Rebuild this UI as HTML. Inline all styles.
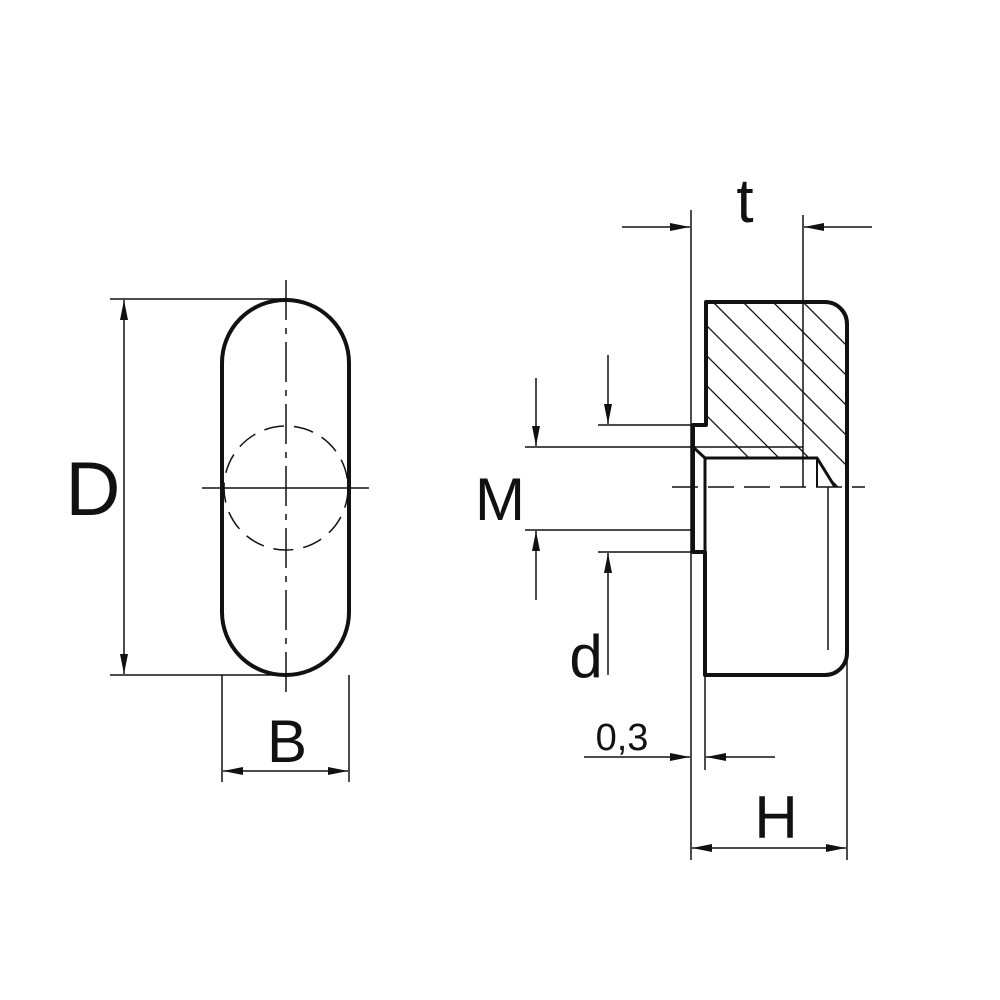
<!DOCTYPE html>
<html><head><style>body{margin:0;background:#fff}svg{display:block}text{font-family:"Liberation Sans",sans-serif;fill:#111}</style></head>
<body>
<svg width="1000" height="1000" viewBox="0 0 1000 1000" xmlns="http://www.w3.org/2000/svg">
<defs>
<marker id="a" viewBox="0 0 20 8" refX="20" refY="4" markerWidth="20" markerHeight="8" orient="auto" markerUnits="userSpaceOnUse"><path d="M0,0 L20,4 L0,8 Z" fill="#111"/></marker>
<clipPath id="hc"><path d="M706,302 L825,302 A22,22 0 0 1 847,324 L847,487 L835,487 L817,458 L705,458 L693,447 L693,425 L706,425 Z"/></clipPath>
</defs>
<g stroke="#111" fill="none">
<rect x="222" y="300" width="127" height="375" rx="63" ry="63" stroke-width="4"/>
<line x1="286" y1="280" x2="286" y2="700" stroke-width="1.5" stroke-dasharray="40,8,6,8"/>
<line x1="202" y1="488" x2="369" y2="488" stroke-width="1.5"/>
<circle cx="286" cy="488" r="62" stroke-width="1.5" stroke-dasharray="20,10"/>
<line x1="110" y1="299" x2="286" y2="299" stroke-width="1.5"/>
<line x1="110" y1="675" x2="286" y2="675" stroke-width="1.5"/>
<line x1="124" y1="400" x2="124" y2="300" stroke-width="1.5" marker-end="url(#a)"/>
<line x1="124" y1="400" x2="124" y2="674" stroke-width="1.5" marker-end="url(#a)"/>
<line x1="222" y1="675" x2="222" y2="782" stroke-width="1.5"/>
<line x1="349" y1="675" x2="349" y2="782" stroke-width="1.5"/>
<line x1="285" y1="771" x2="223" y2="771" stroke-width="1.5" marker-end="url(#a)"/>
<line x1="285" y1="771" x2="348" y2="771" stroke-width="1.5" marker-end="url(#a)"/>
<g clip-path="url(#hc)" stroke-width="1.3">
<line x1="593" y1="302" x2="793" y2="502"/><line x1="623" y1="302" x2="823" y2="502"/>
<line x1="653" y1="302" x2="853" y2="502"/><line x1="683" y1="302" x2="883" y2="502"/>
<line x1="713" y1="302" x2="913" y2="502"/><line x1="743" y1="302" x2="943" y2="502"/>
<line x1="773" y1="302" x2="973" y2="502"/><line x1="803" y1="302" x2="1003" y2="502"/>
<line x1="833" y1="302" x2="1033" y2="502"/>
</g>
<path d="M693,552 L693,425 L706,425 L706,302 L825,302 A22,22 0 0 1 847,324 L847,653 A22,22 0 0 1 825,675 L705,675 L705,552 Z" stroke-width="4" stroke-linejoin="round"/>
<path d="M693,447 L705,458 L705,552" stroke-width="3"/>
<path d="M705,458 L817,458 L835,487" stroke-width="3"/>
<line x1="693" y1="447" x2="803" y2="447" stroke-width="1.5"/>
<line x1="817" y1="458" x2="817" y2="487" stroke-width="2"/>
<line x1="828" y1="487" x2="828" y2="650" stroke-width="1.5"/>
<line x1="672" y1="487" x2="865" y2="487" stroke-width="1.5" stroke-dasharray="26,10"/>
<line x1="691" y1="210" x2="691" y2="860" stroke-width="1.5"/>
<line x1="803" y1="215" x2="803" y2="487" stroke-width="1.5"/>
<line x1="622" y1="227" x2="690" y2="227" stroke-width="1.5" marker-end="url(#a)"/>
<line x1="872" y1="227" x2="804" y2="227" stroke-width="1.5" marker-end="url(#a)"/>
<line x1="598" y1="425" x2="693" y2="425" stroke-width="1.5"/>
<line x1="598" y1="552" x2="693" y2="552" stroke-width="1.5"/>
<line x1="608" y1="355" x2="608" y2="424" stroke-width="1.5" marker-end="url(#a)"/>
<line x1="608" y1="675" x2="608" y2="553" stroke-width="1.5" marker-end="url(#a)"/>
<line x1="525" y1="447" x2="693" y2="447" stroke-width="1.5"/>
<line x1="525" y1="530" x2="693" y2="530" stroke-width="1.5"/>
<line x1="536" y1="378" x2="536" y2="446" stroke-width="1.5" marker-end="url(#a)"/>
<line x1="536" y1="600" x2="536" y2="531" stroke-width="1.5" marker-end="url(#a)"/>
<line x1="705" y1="675" x2="705" y2="770" stroke-width="1.5"/>
<line x1="584" y1="757" x2="690" y2="757" stroke-width="1.5" marker-end="url(#a)"/>
<line x1="775" y1="757" x2="706" y2="757" stroke-width="1.5" marker-end="url(#a)"/>
<line x1="847" y1="660" x2="847" y2="860" stroke-width="1.5"/>
<line x1="770" y1="848" x2="692" y2="848" stroke-width="1.5" marker-end="url(#a)"/>
<line x1="770" y1="848" x2="846" y2="848" stroke-width="1.5" marker-end="url(#a)"/>
</g>
<text x="93" y="515" font-size="76" text-anchor="middle">D</text>
<text x="287" y="762" font-size="60" text-anchor="middle">B</text>
<text x="500" y="520" font-size="60" text-anchor="middle">M</text>
<text x="586" y="677" font-size="60" text-anchor="middle">d</text>
<text x="745" y="222" font-size="62" text-anchor="middle">t</text>
<text x="776" y="838" font-size="60" text-anchor="middle">H</text>
<text x="622" y="750" font-size="38" text-anchor="middle">0,3</text>
</svg>
</body></html>
